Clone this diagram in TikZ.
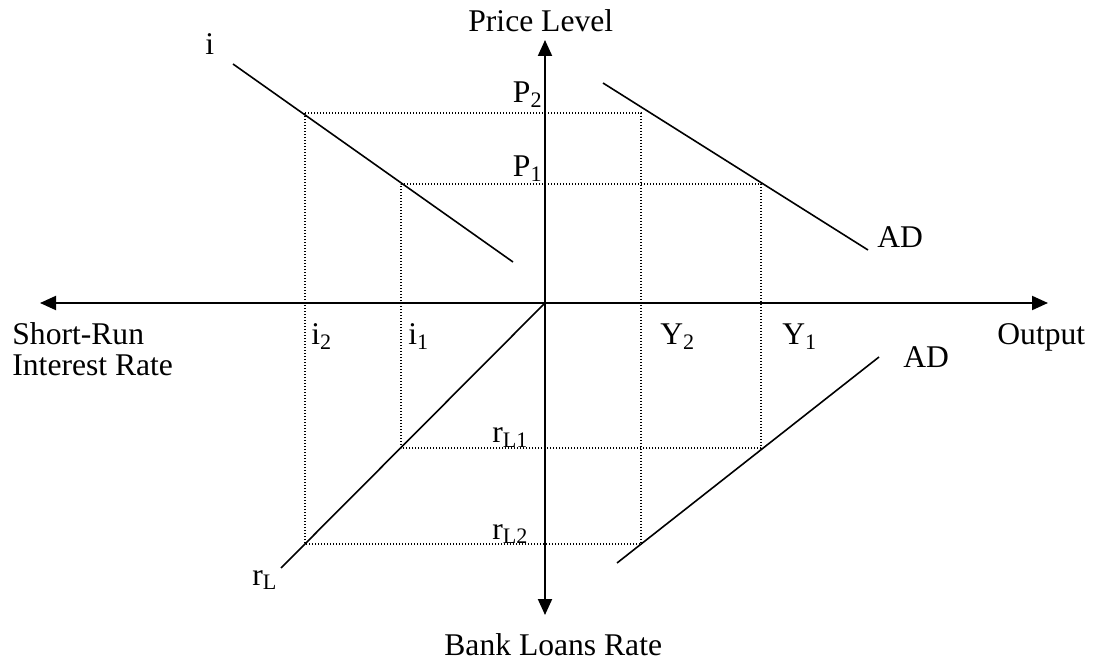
\documentclass[tikz,border=0pt]{standalone}
\usepackage{fontspec}
\setmainfont{Liberation Serif}
\usetikzlibrary{arrows.meta}
\begin{document}
\begin{tikzpicture}[x=0.5pt,y=-0.5pt,
  axis/.style={line width=1pt,{Triangle[length=8pt,width=7pt]}-{Triangle[length=8pt,width=7pt]}},
  curve/.style={line width=0.8pt},
  guide/.style={line width=0.9pt,dash pattern=on 0.6pt off 0.9pt},
  lbl/.style={inner sep=0pt,font=\fontsize{15.8}{19}\selectfont,anchor=base west},
  lble/.style={lbl,anchor=base east}]
\useasboundingbox (0,0) rectangle (1093,663);
% axes
\coordinate (xl) at (40,303);
\coordinate (xr) at (1048,303);
\coordinate (yt) at (545,40);
\coordinate (yb) at (545,615);
\coordinate (O) at (545,303);
\draw[axis] (xl) -- (xr);
\draw[axis] (yb) -- (yt);
% guide corners
\coordinate (a1) at (305,113);
\coordinate (a2) at (641,113);
\coordinate (a3) at (641,544);
\coordinate (a4) at (305,544);
\coordinate (b1) at (401,184);
\coordinate (b2) at (761,184);
\coordinate (b3) at (761,448);
\coordinate (b4) at (401,448);
\draw[guide] (a1) -- (a2) -- (a3) -- (a4) -- cycle;
\draw[guide] (b1) -- (b2) -- (b3) -- (b4) -- cycle;
% curves
\coordinate (i0) at (233,64);
\coordinate (i1) at (513,262);
\coordinate (ad0) at (603,83);
\coordinate (ad1) at (868,250);
\coordinate (bd0) at (617,563);
\coordinate (bd1) at (879,357);
\coordinate (rl1) at (281,568);
\draw[curve] (i0) -- (i1);
\draw[curve] (ad0) -- (ad1);
\draw[curve] (bd0) -- (bd1);
\draw[curve] (O) -- (rl1);
% labels
\node[lbl] (tPL) at (468,32) {Price Level};
\node[lbl] (tBL) at (444,655) {Bank Loans Rate};
\node[lbl] (tSR) at (12,345) {Short-Run};
\node[lbl] (tIR) at (12,376) {Interest Rate};
\node[lbl] (tOut) at (997,345) {Output};
\node[lbl] (ti2) at (311,345) {i\textsubscript{2}};
\node[lbl] (ti1) at (408,345) {i\textsubscript{1}};
\node[lbl] (tY2) at (660,345) {Y\textsubscript{2}};
\node[lbl] (tY1) at (782,345) {Y\textsubscript{1}};
\node[lble] (tP2) at (543,103) {P\textsubscript{2}};
\node[lble] (tP1) at (543,177) {P\textsubscript{1}};
\node[lbl] (trL1) at (492,443) {r\textsubscript{L1}};
\node[lbl] (trL2) at (492,539) {r\textsubscript{L2}};
\node[lbl] (trL) at (252,585) {r\textsubscript{L}};
\node[lbl] (ti) at (205,55) {i};
\node[lbl] (tAD1) at (877,248) {AD};
\node[lbl] (tAD2) at (903,368) {AD};
\end{tikzpicture}
\end{document}
